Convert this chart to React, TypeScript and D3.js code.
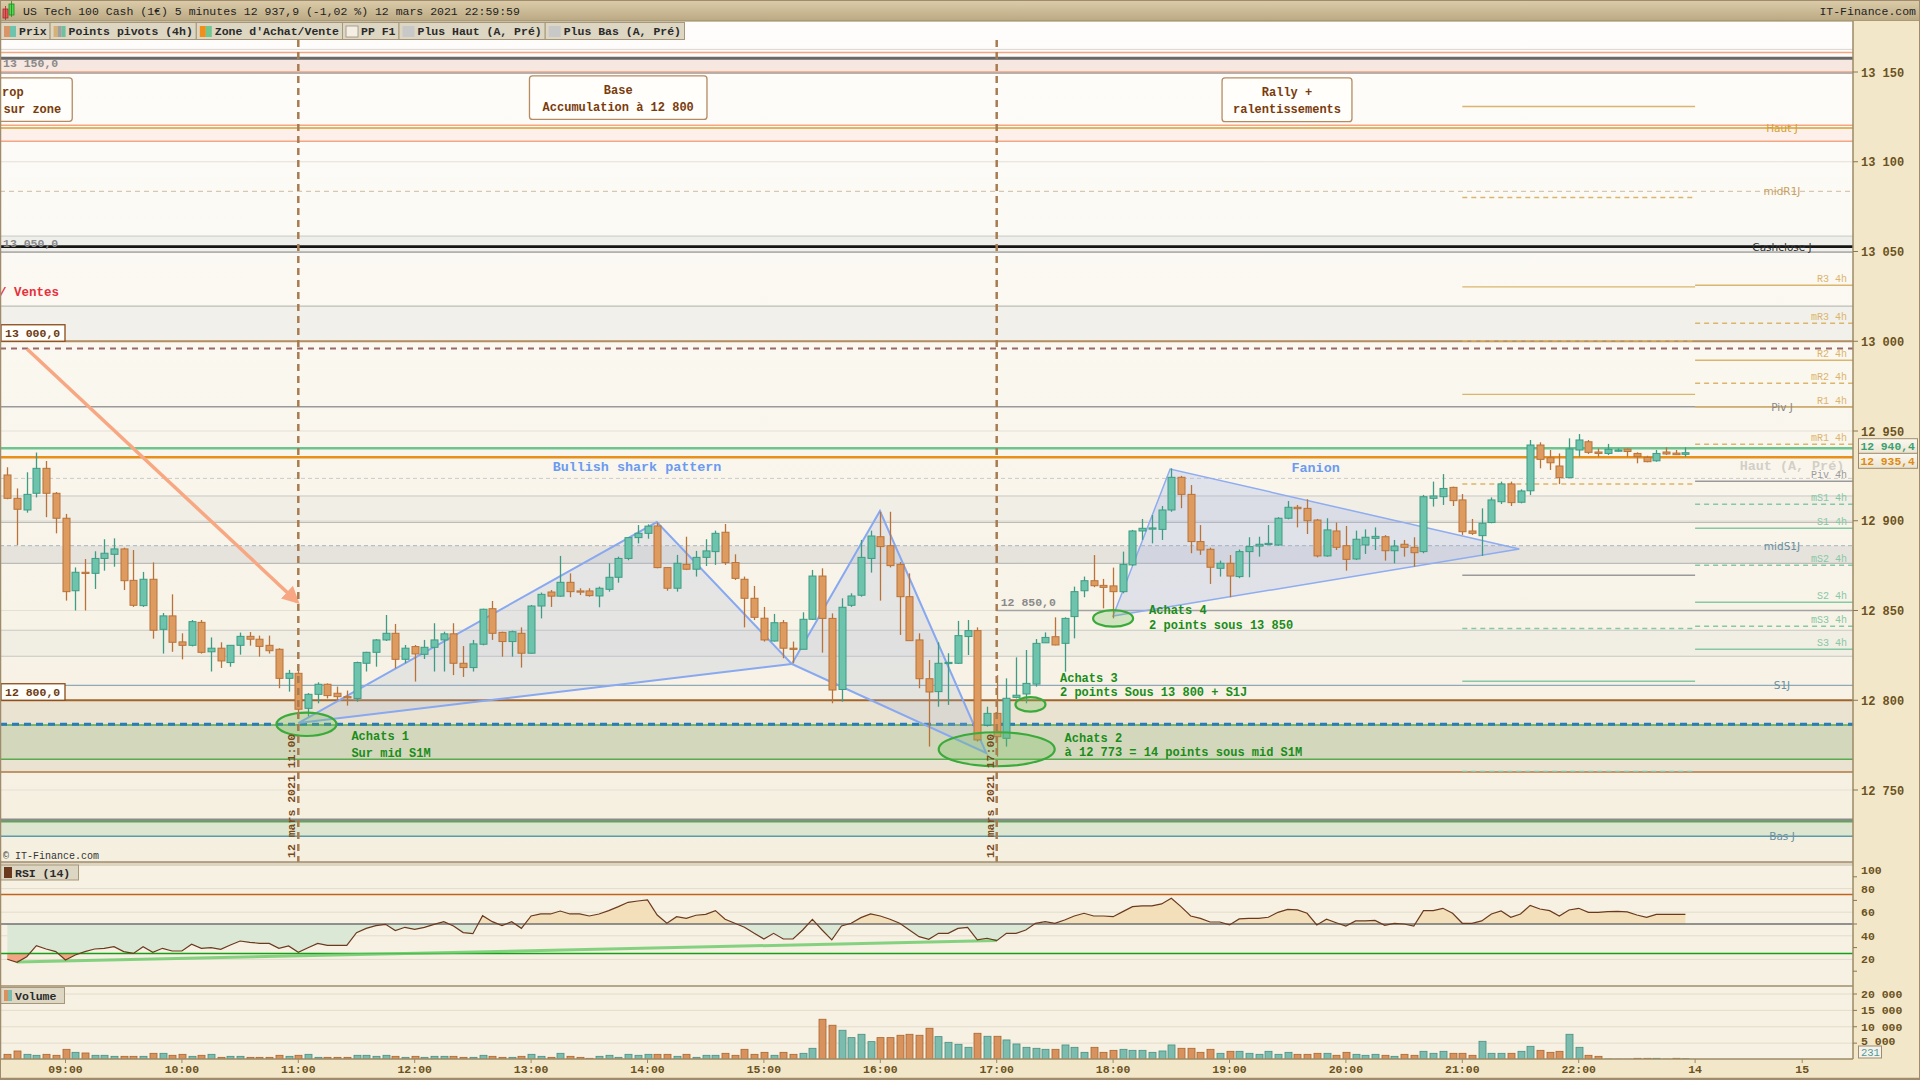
import React from 'react';
import * as d3 from 'd3';

const MONO = "'Liberation Mono','DejaVu Sans Mono',monospace";
const SANS = "'DejaVu Sans','Liberation Sans',sans-serif";

// ---------- DATA ----------
const FIRST_BAR_HOUR = 8.5;
const BAR_HOURS = 5 / 60;

const opens = [12925.5,12912.5,12906,12915.3,12929.2,12915.3,12901.4,12861,12871.3,12870.7,
12879,12881.3,12884.3,12866.8,12852.7,12867.4,12839.5,12847,12832.5,12830.6,
12843.4,12827,12829,12821,12830.6,12835.6,12834,12830.6,12828.4,12812.2,
12815,12795.5,12803.3,12808.9,12803.9,12802,12801,12820.6,12826.7,12833.6,
12837.3,12822.8,12829.9,12825.6,12829.5,12833.6,12837,12820.6,12818.2,12831.2,
12851,12837.8,12832.7,12837.3,12826.2,12852.5,12860.3,12858,12865.7,12860.9,
12860.9,12858.1,12861.8,12868.5,12879,12890.6,12893,12897.1,12873.9,12862.4,
12875.7,12873,12879.6,12882.8,12893.6,12876.7,12867.4,12856.8,12845.7,12833,
12843.2,12829,12828.4,12845.1,12869.2,12845.6,12806,12852.9,12858.5,12879,
12891.1,12886.1,12875.7,12857.7,12833.6,12812,12804.8,12820.6,12820.6,12835.5,
12838.8,12786.2,12792.7,12778.8,12801.6,12803.5,12809,12832,12835.4,12831.7,
12846.6,12861,12866.6,12864,12863.7,12860.5,12875.4,12894.3,12895.6,12895.2,
12906,12924.2,12914.7,12888.4,12884.1,12873.5,12876.3,12868.9,12882.8,12885.9,
12886.9,12886.5,12901.4,12907.5,12906.9,12900.4,12880.4,12894.3,12886.1,12878.7,
12886.5,12890.2,12891.1,12883.3,12886.9,12885.2,12882.8,12912.5,12913.4,12918.6,
12911.6,12894.3,12891.7,12899,12910.6,12920.5,12910.3,12916.7,12942.2,12935.1,
12930.5,12924,12939.4,12944,12938.3,12937.5,12938.9,12939.9,12937.5,12935.3,
12933.4,12938.3,12937.7,12937.0];

const highs = [12929.8,12918,12927,12938,12933.3,12916,12903.8,12874,12878.7,12883,
12889.7,12890.2,12885,12883.7,12871.5,12876.8,12848.6,12859,12837.3,12844.7,
12844.7,12835,12832.3,12830.6,12837.7,12838,12836,12836,12829,12816.9,
12816.3,12804,12810,12809.4,12807.6,12805.4,12821.5,12827,12834.1,12847.5,
12842.5,12830.8,12830.8,12833.6,12842.9,12838.2,12842.9,12830.2,12833.6,12851,
12855.3,12838.2,12838.8,12840.6,12853.1,12860,12861.4,12880.4,12870.7,12862.4,
12862.4,12863.3,12876.3,12880,12890.6,12897.6,12898,12899,12874,12881,
12891.1,12883.2,12889.7,12894.5,12898.2,12881.3,12868.9,12863.7,12852,12848.1,
12844.7,12832.7,12849,12872.6,12873.5,12848.4,12856.8,12859.6,12889.3,12894.5,
12905,12905,12877,12870.7,12837.3,12822.4,12832.3,12826.2,12844.2,12844.7,
12840.6,12796.4,12814,12812.2,12823.9,12828,12834.1,12837.8,12846.2,12846.2,
12863.3,12868.9,12880.9,12867.6,12873.9,12882.8,12894.9,12901,12903.2,12908.2,
12929.2,12925,12919.9,12897.6,12885,12877.8,12880.9,12884,12890.8,12891.1,
12897.6,12902,12911,12908.8,12912,12901,12901.4,12899,12897.1,12894.5,
12895.2,12896.3,12892,12889.3,12889.3,12890.8,12914.4,12921.8,12926,12919,
12914.9,12901,12906.9,12913,12921.8,12921.8,12917.5,12945,12943.7,12939.4,
12937.5,12945.9,12948.3,12945,12940.3,12942.8,12940.3,12940.3,12938.1,12936.2,
12939.4,12940.9,12939.4,12940.9];

const lows = [12912,12886.5,12904.5,12913,12902,12893,12855.5,12850,12850,12862,
12872.2,12874.4,12861.4,12852,12852,12834.3,12826,12827,12822.8,12830,
12826,12816,12818,12818.7,12825.4,12830.4,12824.3,12826,12806.7,12804.8,
12790.9,12791,12798.3,12801,12799.8,12797,12799.2,12816,12818.7,12833,
12817.8,12820.6,12810.4,12823,12816,12816,12814,12813,12816,12830.6,
12833.6,12824.3,12824.3,12818.2,12826,12845.6,12852,12857.7,12857.4,12858.6,
12857.7,12851.8,12860.5,12865.5,12878,12887.4,12890,12873.5,12861,12860.5,
12872.5,12868.9,12874.8,12875.4,12875.4,12867,12840.6,12844.7,12832.7,12832.7,
12823.4,12820.6,12828.4,12844.7,12826.5,12798.3,12799.2,12852,12857.7,12871.1,
12855.5,12874,12836.4,12833,12806.7,12774.2,12796.4,12797.4,12820.2,12825.2,
12777,12785.3,12768.6,12774.2,12801,12798.3,12807.6,12832,12830.6,12815.9,
12834.5,12857.4,12863,12851.2,12845.6,12859.6,12874.8,12889.3,12887.4,12889.3,
12905,12907,12881.9,12881,12864.8,12868.9,12857.4,12868,12868.5,12880,
12886.5,12886,12900.8,12896.3,12892.6,12879.6,12880,12883.7,12872.2,12878.1,
12881.5,12883.7,12877.8,12876.3,12880,12874.4,12881.9,12907.9,12908.8,12908.2,
12892.1,12892.1,12880.4,12898.6,12909.3,12908.2,12909.7,12914.3,12929.2,12928.3,
12920.4,12923.8,12935.7,12937.2,12935.7,12936.6,12938.5,12935.7,12932,12932.6,
12932.9,12936.6,12936.7,12935.7];

const closes = [12912.5,12906.4,12914.7,12929.2,12915.3,12901.4,12860.5,12871.3,12871,12879,
12881.9,12884.3,12866.6,12852.9,12867.4,12839,12847,12832.3,12830.6,12843.8,
12826.7,12829,12821.9,12830.6,12835.6,12834,12830,12827.6,12812.2,12815,
12795,12803.3,12808.9,12802.6,12802,12801.6,12821,12826.7,12833.6,12837.3,
12822.8,12829,12825.8,12829.5,12833.6,12837,12820.6,12818.2,12831.4,12850.7,
12837.3,12832.7,12838.2,12826.2,12852.5,12859,12858,12865.7,12860.5,12860.5,
12858.3,12862.4,12868.5,12879,12890.6,12893,12897,12873.9,12862.4,12876.3,
12873,12879.6,12883.2,12893,12876.7,12867.9,12856.8,12846.2,12833.6,12843.2,
12829,12828.4,12845.1,12869.2,12845.6,12805.7,12851.8,12858.1,12879.6,12891.5,
12885.6,12875,12857.7,12833.2,12812,12804.6,12820.6,12821.1,12836,12838.8,
12777.9,12792.7,12779.7,12801.1,12802.8,12809.4,12831.7,12835,12830.8,12845.6,
12860.5,12866.6,12863.8,12862.9,12860.5,12875.7,12894.3,12895.8,12896,12906,
12924.2,12914.7,12888.4,12883.7,12874.1,12876.3,12869.2,12882.8,12885.6,12886.9,
12887.4,12901.4,12907.5,12906.7,12900,12880.4,12894.9,12885.2,12878.5,12889.7,
12890.8,12891.3,12883.3,12885.9,12885.2,12882.2,12913.4,12913.8,12918,12911.2,
12893.9,12893,12898.6,12911.6,12920.5,12910.1,12916.6,12942.2,12934.2,12932.3,
12924,12940,12945,12938.1,12937.5,12939.8,12939.4,12938.6,12935.7,12932.9,
12937.5,12937.2,12936.8,12937.9];

const volumes = [1580,2600,1580,1280,1580,1280,3110,2190,1990,1280,
1280,970,970,970,970,1890,1890,1280,1580,970,
1280,1580,660,970,970,660,660,660,1280,970,
1280,1580,660,660,660,660,1280,1280,970,1280,
970,660,970,660,970,970,970,660,660,1280,
970,660,660,970,1580,970,660,1890,970,660,
360,970,1280,660,1580,1280,1580,1580,1580,970,
1580,660,1280,1280,1890,1280,3110,1580,2190,1280,
2190,1580,1890,3420,12290,10460,8930,6680,7700,5460,
6680,6680,7400,7700,7400,9540,6990,5250,4640,3720,
8010,7090,7090,5970,4740,3720,3420,3110,3110,4440,
3720,2190,3720,2190,2800,3110,2800,2800,2190,2600,
4440,3420,3420,2190,3110,1890,2500,2500,1890,1580,
2500,1580,2190,1580,1580,1890,1890,1280,2190,1580,
1280,1580,1280,970,1580,1280,2500,1890,2500,1890,
1890,1280,5560,1890,1890,1890,2500,4030,2800,2190,
2500,7700,3720,1280,970,120,90,80,360,360,
360,100,360,231];

const rsiValues = [20.1,17.5,22.3,31.6,28.8,26.6,19.5,23.7,26.6,28.8,
29.4,30.8,26.6,25.1,30.8,26.0,29.4,27.1,27.1,32.8,
29.4,29.9,28.5,32.2,35.6,34.5,33.6,33.6,29.4,31.4,
26.0,29.9,33.6,31.9,31.9,31.9,42.7,46.3,48.6,49.7,
44.4,47.2,45.5,47.2,49.7,52.0,48.3,42.7,41.8,57.1,
52.0,48.6,52.0,46.3,56.8,58.5,58.5,61.0,58.5,58.5,
56.8,58.5,61.3,64.7,68.4,69.5,70.4,57.6,50.6,56.2,
54.8,57.4,58.2,61.3,54.0,50.6,47.2,42.1,37.3,42.1,
37.3,37.3,44.9,54.0,44.9,36.5,48.3,50.6,55.4,58.5,
56.8,54.0,50.6,44.9,39.3,37.0,42.1,42.1,46.3,47.2,
36.5,37.9,35.9,42.1,42.1,44.9,50.6,52.0,50.6,53.4,
56.8,59.1,56.8,56.8,56.2,60.5,64.7,65.3,65.3,67.0,
71.8,64.7,56.8,54.8,51.7,51.7,49.2,54.3,54.8,54.8,
55.7,59.9,62.4,61.9,59.1,49.2,54.0,51.1,48.3,52.6,
52.6,53.1,48.9,50.6,50.0,48.3,61.3,61.3,63.3,59.1,
50.6,50.6,52.6,58.5,61.0,55.7,58.5,65.8,62.7,61.3,
56.8,61.9,63.3,59.9,59.9,60.5,60.7,60.2,57.6,55.7,
58.2,58.2,58.2,58.2];

const hourTicks = [9,10,11,12,13,14,15,16,17,18,19,20,21,22];
const hourLabels = ['09:00','10:00','11:00','12:00','13:00','14:00','15:00','16:00','17:00','18:00','19:00','20:00','21:00','22:00'];
const dayTickHours = [23.0, 23.92];
const dayTickLabels = ['14', '15'];
const priceTicks = [12750,12800,12850,12900,12950,13000,13050,13100,13150];
const rsiTicks = [20,40,60,80,100];
const volumeTicks = [5000,10000,15000,20000];

// horizontal zones [top price, bottom price, colour]
const bandTop = [13157.6,13118.8,13058.6,13019.6,12913.8,12886.1,12839,12800,12786.2,12732.3];
const bandBottom = [13150,13111.4,13049.6,13000,12899.1,12876.3,12824.5,12760,12767.1,12724.2];
const bandColors = ['#f7e7e1','#fdf0ea','#eeefea','#f1f0ea','#f1eee5','#e6e3dc','#f1eee3','#ebe3d1','#d3d8bc','#dfe6cf'];

// full-width levels
const levelPrices = [13162.6,13160.9,13157.6,13150,13149.4,13120.3,13118.8,13111.4,13083.5,13058.6,13052.7,13049.6,13019.6,13000,12995.9,12963.5,12923.6,12913.8,12899.1,12886.1,12876.3,12839,12824.5,12808.3,12800,12786.2,12786.6,12767.1,12760,12733.3,12732.3,12724.2,12940.4,12935.4];
const levelNames = ['','','','','','','Haut J','','midR1J','','Cashclose J','','','','','Piv J','','','','midS1J','','','','S1J','','','','','','','','Bas J','',''];

const pivotNewNames = ['R3 4h','mR3 4h','R2 4h','mR2 4h','R1 4h','mR1 4h','Piv 4h','mS1 4h','S1 4h','mS2 4h','S2 4h','mS3 4h','S3 4h'];
const pivotNewPrices = [13031.2,13010,12989.4,12976.6,12963.4,12942.6,12922,12909.2,12895.8,12875.2,12854.6,12841.2,12828.4];
const pivotOldPrices = [13130.8,13080.1,13030.3,13000.3,12970.4,12920.5,12869.6,12840,12810.6,12760.4];
const pivotOldKinds = ['R','mR','R','mR','R','mR','P','mS','S','mS'];
const PIVOT_OLD_START = 21.0;
const PIVOT_NEW_START = 23.0;

const sharkHours = [11.0, 14.08, 15.24, 15.997, 16.91];
const sharkPrices = [12787.3, 12899.3, 12820.2, 12905.4, 12770.6];
const pennantHours = [18.0, 18.49, 21.49];
const pennantPrices = [12846.9, 12928.8, 12884.3];

const buyHours = [11.07, 17.0, 17.29, 18.0];
const buyPrices = [12786.6, 12772.7, 12797.7, 12845.6];
const buyTextHours = [11.456, 17.583, 17.544, 18.309];
const buyTextPrices = [12780.1, 12779.1, 12812.4, 12850.1];
const buyTexts = [['Achats 1','Sur mid S1M'],['Achats 2','à 12 773 = 14 points sous mid S1M'],['Achats 3','2 points Sous 13 800 + S1J'],['Achats 4','2 points sous 13 850']];

const noteStart = [8.0, 12.986, 18.936];
const noteEnd = [9.058, 14.511, 20.052];
const noteTop = [13146.7, 13147.8, 13146.7];
const noteBottom = [13122.5, 13123.6, 13122.3];
const noteLines = [['rop','sur zone'],['Base','Accumulation à 12 800'],['Rally +','ralentissements']];

const markerHours = [11, 17];

// ---------- helpers ----------
const thousands = (v: number) => Math.round(v).toString().replace(/\B(?=(\d{3})+(?!\d))/g, ' ');
const price1 = (v: number) => { const [i, d] = v.toFixed(1).split('.'); return thousands(+i) + ',' + d; };

const BULL_F = '#6ec3ac', BULL_S = '#3d9c84', BEAR_F = '#de9b60', BEAR_S = '#b8733a';
const AXIS_TXT = '#6b5220';
const FRAME = '#a08c6c';

export default function App() {
  const W = 1920, H = 1080;
  const AX = 1853;
  const PT = 22, PB = 862;
  const RT = 866, RB = 986;
  const VB = 1059;

  const x = d3.scaleLinear().domain([9, 22]).range([65.5, 1578.7]);
  const y = d3.scaleLinear().domain([12750, 13150]).range([790, 72]);
  const rsiY = d3.scaleLinear().domain([0, 100]).range([983, 865]);
  const volY = d3.scaleLinear().domain([0, 20000]).range([1059.5, 994]);

  const bars = opens.map((o, i) => ({
    t: FIRST_BAR_HOUR + i * BAR_HOURS, o, h: highs[i], l: lows[i], c: closes[i], v: volumes[i], r: rsiValues[i],
  }));
  type Bar = typeof bars[number];

  const rsiLine = d3.line<Bar>().x(b => x(b.t)).y(b => rsiY(b.r));
  const rsiArea50 = d3.area<Bar>().x(b => x(b.t)).y0(rsiY(50)).y1(b => rsiY(b.r));
  const rsiArea25 = d3.area<Bar>().x(b => x(b.t)).y0(rsiY(25)).y1(b => rsiY(b.r));

  const pt = (t: number, p: number) => `${x(t)},${y(p)}`;
  const shark1 = [0, 1, 2].map(i => pt(sharkHours[i], sharkPrices[i])).join(' ');
  const shark2 = [2, 3, 4].map(i => pt(sharkHours[i], sharkPrices[i])).join(' ');
  const pennant = [0, 1, 2].map(i => pt(pennantHours[i], pennantPrices[i])).join(' ');

  const legend = [
    { label: 'Prix', sw: ['#d8956a', '#6ec3ac'] },
    { label: 'Points pivots (4h)', sw: ['#d8b070', '#a0a0a0', '#70c0a0'] },
    { label: "Zone d'Achat/Vente", sw: ['#f0901a', '#70c890'] },
    { label: 'PP F1', sw: ['#f4efe2'] },
    { label: 'Plus Haut (A, Pré)', sw: ['#c8c8c8'] },
    { label: 'Plus Bas (A, Pré)', sw: ['#c8c8c8'] },
  ];
  let lx = 0;
  const legendItems = legend.map(it => { const w = it.label.length * 6.9 + 22; const o = { ...it, x: lx, w }; lx += w; return o; });

  const levelStyle = (i: number) => {
    const p = levelPrices[i];
    const s: { c: string; w: number; d?: string } = { c: '#c8c8c4', w: 1 };
    if (p === 13162.6) return { c: '#d8d6d0', w: 1 };
    if (p === 13160.9 || p === 13150 || p === 13120.3 || p === 13111.4) return { c: '#f4a582', w: 1.5 };
    if (p === 13157.6) return { c: '#686868', w: 3 };
    if (p === 13149.4 || p === 13049.6) return { c: '#9a9a9a', w: 1.2 };
    if (p === 13118.8) return { c: '#d4a030', w: 1.6 };
    if (p === 13083.5) return { c: '#d8c6b0', w: 1.2, d: '5,4' };
    if (p === 13052.7) return { c: '#151515', w: 2.6 };
    if (p === 13019.6 || p === 12899.1 || p === 12876.3) return { c: '#bdbdb8', w: 1.3 };
    if (p === 13000) return { c: '#b38c60', w: 2.2 };
    if (p === 12995.9) return { c: '#9a6a6a', w: 2, d: '6,5' };
    if (p === 12963.5) return { c: '#9a9a9a', w: 1.3 };
    if (p === 12923.6) return { c: '#cacaca', w: 1, d: '4,3' };
    if (p === 12886.1) return { c: '#b6bec6', w: 1.2, d: '4,3' };
    if (p === 12808.3) return { c: '#8eaab8', w: 1.3 };
    if (p === 12800) return { c: '#a0642d', w: 2 };
    if (p === 12786.2 || p === 12767.1 || p === 12732.3) return { c: '#5aaa50', w: 1.5 };
    if (p === 12786.6) return { c: '#2b7bb9', w: 3, d: '7,5' };
    if (p === 12760) return { c: '#b07840', w: 1.5 };
    if (p === 12733.3) return { c: '#8a8a8a', w: 3 };
    if (p === 12724.2) return { c: '#5b9aaa', w: 1.5 };
    if (p === 12940.4) return { c: '#6cc58f', w: 2.6 };
    if (p === 12935.4) return { c: '#e8901a', w: 2.6 };
    return s;
  };
  const levelLabelColor = (n: string) => n === 'Haut J' ? '#d4a030' : n === 'midR1J' ? '#c8a060' : n === 'Cashclose J' ? '#333' : n === 'Piv J' ? '#888' : '#6a8fa2';

  const pivColor = (k: string) => k.includes('R') ? '#dcb56c' : k.includes('S') ? '#86c8a6' : '#9a9a9a';
  const newKind = (n: string) => n.startsWith('Piv') ? 'P' : n.startsWith('m') ? 'm' + n[1] : n[0];

  return (
    <svg width={W} height={H} viewBox={`0 0 ${W} ${H}`} style={{ position: 'absolute', left: 0, top: 0, display: 'block' }} fontFamily={MONO}>
      <defs>
        <linearGradient id="hdr" x1="0" y1="0" x2="0" y2="1">
          <stop offset="0" stopColor="#dccdaa" />
          <stop offset="1" stopColor="#bba883" />
        </linearGradient>
        <linearGradient id="pbg" x1="0" y1="0" x2="0" y2="1">
          <stop offset="0" stopColor="#fefdfb" />
          <stop offset="1" stopColor="#f5efdf" />
        </linearGradient>
        <linearGradient id="tag" x1="0" y1="0" x2="0" y2="1">
          <stop offset="0" stopColor="#fbf8ef" />
          <stop offset="1" stopColor="#ebe4d2" />
        </linearGradient>
        <clipPath id="pclip"><rect x={1} y={PT} width={AX - 1} height={PB - PT} /></clipPath>
        <clipPath id="rAbove"><rect x={0} y={RT} width={AX} height={rsiY(50) - RT} /></clipPath>
        <clipPath id="rBelow"><rect x={0} y={rsiY(50)} width={AX} height={RB - rsiY(50)} /></clipPath>
        <clipPath id="rBelow25"><rect x={0} y={rsiY(25)} width={AX} height={RB - rsiY(25)} /></clipPath>
        <marker id="arr" viewBox="0 0 10 10" refX="8" refY="5" markerWidth="5" markerHeight="5" orient="auto">
          <path d="M0,0 L10,5 L0,10 z" fill="#f7a882" />
        </marker>
      </defs>

      <rect x={0} y={0} width={W} height={H} fill="#f6f1e3" />

      {/* PRICE PANEL */}
      <rect x={0} y={PT} width={AX} height={PB - PT} fill="url(#pbg)" />
      <g clipPath="url(#pclip)">
        {bandTop.map((tp, i) => (
          <rect key={'b' + i} x={0} y={y(tp)} width={AX} height={y(bandBottom[i]) - y(tp)} fill={bandColors[i]} />
        ))}
        {priceTicks.map(p => <line key={'g' + p} x1={0} x2={AX} y1={y(p)} y2={y(p)} stroke="#e4e0d6" strokeWidth={1} />)}
        {levelPrices.map((p, i) => { const s = levelStyle(i); return (
          <line key={'l' + i} x1={0} x2={AX} y1={y(p)} y2={y(p)} stroke={s.c} strokeWidth={s.w} strokeDasharray={s.d} />
        ); })}
        <line x1={x(17)} x2={AX} y1={y(12850)} y2={y(12850)} stroke="#a3a3a3" strokeWidth={1.5} />
        {/* 4h pivots previous period */}
        {pivotOldPrices.map((p, i) => (
          <line key={'po' + i} x1={x(PIVOT_OLD_START)} x2={x(PIVOT_NEW_START)} y1={y(p)} y2={y(p)} stroke={pivColor(pivotOldKinds[i])} strokeWidth={1.4} strokeDasharray={pivotOldKinds[i].startsWith('m') ? '5,4' : undefined} />
        ))}
        <text x={1792} y={y(12931.2) + 5} textAnchor="middle" fontSize={13.4} fontWeight="bold" fill="#d3cfc6">Haut (A, Pré)</text>
        {/* 4h pivots current period */}
        {pivotNewPrices.map((p, i) => { const k = newKind(pivotNewNames[i]); return (
          <g key={'pn' + i}>
            <line x1={x(PIVOT_NEW_START)} x2={AX} y1={y(p)} y2={y(p)} stroke={pivColor(k)} strokeWidth={1.4} strokeDasharray={k.startsWith('m') ? '5,4' : undefined} />
            <text x={1847} y={y(p) - 3} textAnchor="end" fontSize={10} fill={pivColor(k)}>{pivotNewNames[i]}</text>
          </g>
        ); })}
        {levelPrices.map((p, i) => levelNames[i] ? (
          <text key={'ln' + i} x={1782} y={y(p) + 4} textAnchor="middle" fontFamily={SANS} fontSize={10.5} fill={levelLabelColor(levelNames[i])}>{levelNames[i]}</text>
        ) : null)}

        {/* patterns */}
        <polygon points={shark1} fill="rgba(165,178,215,0.22)" stroke="#88a8f0" strokeWidth={2} />
        <polygon points={shark2} fill="rgba(165,178,215,0.22)" stroke="#88a8f0" strokeWidth={2} />
        <polygon points={pennant} fill="rgba(150,170,230,0.25)" stroke="#8eacf0" strokeWidth={1.5} />

        {/* candles */}
        {bars.map((b, i) => {
          const up = b.c >= b.o;
          const cx = Math.round(x(b.t)) + 0.5;
          const yt = y(Math.max(b.o, b.c));
          const yb = y(Math.min(b.o, b.c));
          return (
            <g key={'c' + i}>
              <line x1={cx} x2={cx} y1={y(b.h)} y2={y(b.l)} stroke={up ? BULL_S : BEAR_S} strokeWidth={1.3} />
              <rect x={cx - 3.5} y={yt} width={7} height={Math.max(1.2, yb - yt)} fill={up ? BULL_F : BEAR_F} stroke={up ? BULL_S : BEAR_S} strokeWidth={1} />
            </g>
          );
        })}

        {/* arrow */}
        <line x1={x(8.67)} y1={y(12995.7)} x2={x(10.99)} y2={y(12854.9)} stroke="#f7a882" strokeWidth={3.5} markerEnd="url(#arr)" />

        {/* buy ellipses */}
        {buyHours.map((t, i) => {
          const rx = [30, 58, 15, 20][i], ry = [11.7, 17, 7.2, 8.3][i];
          return <ellipse key={'e' + i} cx={x(t)} cy={y(buyPrices[i])} rx={rx} ry={ry} fill="rgba(110,190,90,0.28)" stroke="#3aaa3a" strokeWidth={2.2} />;
        })}
        {buyTexts.map((lines, i) => lines.map((s, j) => (
          <text key={'bt' + i + j} x={x(buyTextHours[i])} y={y(buyTextPrices[i]) + 4 + j * (i === 0 ? 17.3 : 14.3)} fontSize={12} fontWeight="bold" fill="#1a8c1a">{s}</text>
        )))}

        {/* pattern labels */}
        <text x={x(13.91)} y={y(12930.5) + 5} textAnchor="middle" fontSize={13.4} fontWeight="bold" fill="#6b9af0">Bullish shark pattern</text>
        <text x={x(19.74)} y={y(12930.0) + 5} textAnchor="middle" fontSize={13.4} fontWeight="bold" fill="#6b9af0">Fanion</text>

        {/* note boxes */}
        {noteStart.map((t0, i) => {
          const x0 = x(t0), x1 = x(noteEnd[i]), y0 = y(noteTop[i]), y1 = y(noteBottom[i]);
          const start = i === 0;
          return (
            <g key={'n' + i}>
              <rect x={x0} y={y0} width={x1 - x0} height={y1 - y0} rx={3} fill="#fffefb" stroke="#b58b62" strokeWidth={1.3} />
              {noteLines[i].map((s, j) => (
                <text key={j} x={start ? 2 + j * 1.6 : (x0 + x1) / 2} y={y0 + 18 + j * 17} textAnchor={start ? 'start' : 'middle'} fontSize={12} fontWeight="bold" fill="#7a3b0c">{s}</text>
              ))}
            </g>
          );
        })}

        {/* left level labels */}
        {[13000, 12800].map(p => (
          <g key={'tg' + p}>
            <rect x={1} y={y(p) - 16.5} width={64} height={16.5} fill="#fffefb" stroke="#8b4a18" strokeWidth={1.3} />
            <text x={5} y={y(p) - 4.5} fontSize={11.5} fontWeight="bold" fill="#6b3a12">{price1(p)}</text>
          </g>
        ))}
        <text x={3} y={y(13150) - 5} fontSize={11.5} fontWeight="bold" fill="#8a8a8a">{price1(13150)}</text>
        <text x={3} y={y(13049.6) - 5} fontSize={11.5} fontWeight="bold" fill="#8a8a8a">{price1(13050)}</text>
        <text x={x(17) + 4} y={y(12850) - 5} fontSize={11.5} fontWeight="bold" fill="#8a8a8a">{price1(12850)}</text>
        <text x={-1} y={y(13028) + 5} fontSize={12.5} fontWeight="bold" fill="#e8303a">/ Ventes</text>

        {/* vertical date markers */}
        {markerHours.map(t => (
          <g key={'vm' + t}>
            <line x1={x(t)} x2={x(t)} y1={40} y2={PB} stroke="#a87c50" strokeWidth={2.5} strokeDasharray="7,5" />
            <text transform={`translate(${x(t) - 3},${PB - 4}) rotate(-90)`} fontSize={11.5} fontWeight="bold" fill="#7a4a1a">{`12 mars 2021 ${t}:00`}</text>
          </g>
        ))}
        <text x={3} y={PB - 3} fontSize={10} fill="#333">© IT-Finance.com</text>
      </g>

      {/* legend row */}
      {legendItems.map((it, i) => (
        <g key={'lg' + i}>
          <rect x={it.x + 0.5} y={22.5} width={it.w} height={17} fill="#ddd6c3" stroke="#a6977a" strokeWidth={1} />
          {it.sw.map((c, j) => (
            <rect key={j} x={it.x + 4 + j * (12 / it.sw.length)} y={26} width={12 / it.sw.length} height={11} fill={c} stroke={it.label === 'PP F1' ? '#9a9080' : 'none'} strokeWidth={0.8} />
          ))}
          <text x={it.x + 19} y={35} fontSize={11.5} fontWeight="bold" fill="#2a2a2a">{it.label}</text>
        </g>
      ))}

      {/* header */}
      <rect x={0} y={0} width={W} height={21} fill="url(#hdr)" stroke="#9a8a68" strokeWidth={1} />
      <rect x={3} y={9} width={5} height={9} fill="#e8585a" stroke="#a03030" strokeWidth={0.8} />
      <line x1={5.5} x2={5.5} y1={6} y2={20} stroke="#a03030" strokeWidth={0.8} />
      <rect x={9} y={4} width={5} height={11} fill="#52d852" stroke="#208a20" strokeWidth={0.8} />
      <line x1={11.5} x2={11.5} y1={1} y2={17} stroke="#208a20" strokeWidth={0.8} />
      <text x={23} y={15} fontSize={11.5} fill="#1e1e1e">US Tech 100 Cash (1€) 5 minutes 12 937,9 (-1,02 %) 12 mars 2021 22:59:59</text>
      <text x={1916} y={15} textAnchor="end" fontSize={11.5} fill="#222">IT-Finance.com</text>

      {/* price panel bottom separator */}
      <rect x={0} y={PB} width={AX} height={4} fill="#ddd5c2" />
      <line x1={0} x2={AX} y1={PB} y2={PB} stroke={FRAME} strokeWidth={1.5} />

      {/* RSI PANEL */}
      <g>
        {[20, 40, 60, 80].map(v => <line key={'rg' + v} x1={0} x2={AX} y1={rsiY(v)} y2={rsiY(v)} stroke="#e4dccb" strokeWidth={1} />)}
        <g clipPath="url(#rAbove)"><path d={rsiArea50(bars) || ''} fill="#f3e0bb" /></g>
        <g clipPath="url(#rBelow)"><path d={rsiArea50(bars) || ''} fill="#dce8d6" /></g>
        <g clipPath="url(#rBelow25)"><path d={rsiArea25(bars) || ''} fill="#f4a585" /></g>
        <line x1={0} x2={AX} y1={rsiY(75)} y2={rsiY(75)} stroke="#c0641e" strokeWidth={1.5} />
        <line x1={0} x2={AX} y1={rsiY(50)} y2={rsiY(50)} stroke="#707070" strokeWidth={1.5} />
        <line x1={0} x2={AX} y1={rsiY(25)} y2={rsiY(25)} stroke="#16a016" strokeWidth={1.5} />
        <line x1={x(bars[1].t)} y1={rsiY(17.8)} x2={x(17)} y2={rsiY(36)} stroke="#5fc85f" strokeWidth={3} opacity={0.75} />
        <path d={rsiLine(bars) || ''} fill="none" stroke="#6b3a1e" strokeWidth={1.2} />
        <rect x={0.5} y={RT - 1} width={78} height={15} fill="#ddd6c3" stroke="#a6977a" strokeWidth={1} />
        <rect x={4} y={RT + 1} width={8} height={11} fill="#6b3a1e" />
        <text x={15} y={RT + 10.5} fontSize={11.5} fontWeight="bold" fill="#2a2a2a">RSI (14)</text>
      </g>
      <line x1={0} x2={AX} y1={RB} y2={RB} stroke={FRAME} strokeWidth={1.5} />

      {/* VOLUME PANEL */}
      {volumeTicks.map(v => <line key={'vg' + v} x1={0} x2={AX} y1={volY(v)} y2={volY(v)} stroke="#e4dccb" strokeWidth={1} />)}
      {bars.map((b, i) => {
        const up = b.c >= b.o;
        const cx = Math.round(x(b.t)) + 0.5;
        return <rect key={'v' + i} x={cx - 3.5} y={volY(b.v)} width={7} height={Math.max(0, volY(0) - volY(b.v))} fill={up ? '#7cbcae' : '#d8925e'} stroke={up ? '#4a8e80' : '#a8652e'} strokeWidth={0.8} />;
      })}
      <rect x={0.5} y={987.5} width={64} height={16} fill="#ddd6c3" stroke="#a6977a" strokeWidth={1} />
      <rect x={4} y={990} width={4} height={11} fill="#d8925e" />
      <rect x={8} y={990} width={4} height={11} fill="#7cbcae" />
      <text x={15} y={999.5} fontSize={11.5} fontWeight="bold" fill="#2a2a2a">Volume</text>

      {/* X AXIS */}
      <rect x={0} y={VB} width={W} height={H - VB} fill="#f3e7c9" />
      <line x1={0} x2={AX} y1={VB} y2={VB} stroke="#9c8a66" strokeWidth={1.5} />
      {hourTicks.map((h, i) => (
        <g key={'xt' + h}>
          <line x1={x(h)} x2={x(h)} y1={VB} y2={VB + 4} stroke="#9c8a66" />
          <text x={x(h)} y={VB + 14} textAnchor="middle" fontSize={11.5} fontWeight="bold" fill={AXIS_TXT}>{hourLabels[i]}</text>
        </g>
      ))}
      {dayTickHours.map((h, i) => (
        <g key={'dt' + i}>
          <line x1={x(h)} x2={x(h)} y1={VB} y2={VB + 4} stroke="#9c8a66" />
          <text x={x(h)} y={VB + 14} textAnchor="middle" fontSize={11.5} fontWeight="bold" fill={AXIS_TXT}>{dayTickLabels[i]}</text>
        </g>
      ))}

      {/* RIGHT AXIS */}
      <rect x={AX} y={21} width={W - AX} height={VB - 21} fill="#f3e7c9" />
      <line x1={AX} x2={AX} y1={21} y2={VB} stroke="#9c8a66" strokeWidth={1.5} />
      {priceTicks.map(p => (
        <g key={'pt' + p}>
          <line x1={AX} x2={AX + 5} y1={y(p)} y2={y(p)} stroke="#8a7650" />
          <text x={1861} y={y(p) + 4.5} fontSize={12} fontWeight="bold" fill={AXIS_TXT}>{thousands(p)}</text>
        </g>
      ))}
      {[{ p: 12940.4, c: '#3aa070', top: 438.7 }, { p: 12935.4, c: '#e08a10', top: 453.3 }].map(tg => (
        <g key={'tag' + tg.p}>
          <rect x={1858.5} y={tg.top} width={59} height={15} fill="url(#tag)" stroke="#a08c6c" strokeWidth={1} />
          <text x={1860.5} y={tg.top + 11.5} fontSize={11.3} fontWeight="bold" fill={tg.c}>{price1(tg.p)}</text>
        </g>
      ))}
      {rsiTicks.map(v => (
        <g key={'rt' + v}>
          <line x1={AX} x2={AX + 4} y1={rsiY(v - 10)} y2={rsiY(v - 10)} stroke="#8a7650" />
          <text x={1861} y={Math.max(rsiY(v), 870) + 4} fontSize={11.5} fontWeight="bold" fill={AXIS_TXT}>{v}</text>
        </g>
      ))}
      {volumeTicks.map(v => (
        <g key={'vt' + v}>
          <line x1={AX} x2={AX + 4} y1={volY(v)} y2={volY(v)} stroke="#8a7650" />
          <text x={1861} y={volY(v) + (v === 5000 ? 1.5 : 4)} fontSize={11.5} fontWeight="bold" fill={AXIS_TXT}>{thousands(v)}</text>
        </g>
      ))}
      <rect x={1858.5} y={1046} width={23} height={12} fill="#f4f2ea" stroke="#a08c6c" strokeWidth={1} />
      <text x={1861} y={1055.5} fontSize={10.5} fill="#4e9a98">{volumes[volumes.length - 1]}</text>

      {/* frame */}
      <rect x={0.5} y={0.5} width={W - 1} height={H - 1} fill="none" stroke={FRAME} strokeWidth={1} />
      <line x1={0.5} x2={0.5} y1={21} y2={VB} stroke={FRAME} strokeWidth={1.5} />
      <line x1={0} x2={W} y1={H - 1.5} y2={H - 1.5} stroke={FRAME} strokeWidth={1.5} />
    </svg>
  );
}
